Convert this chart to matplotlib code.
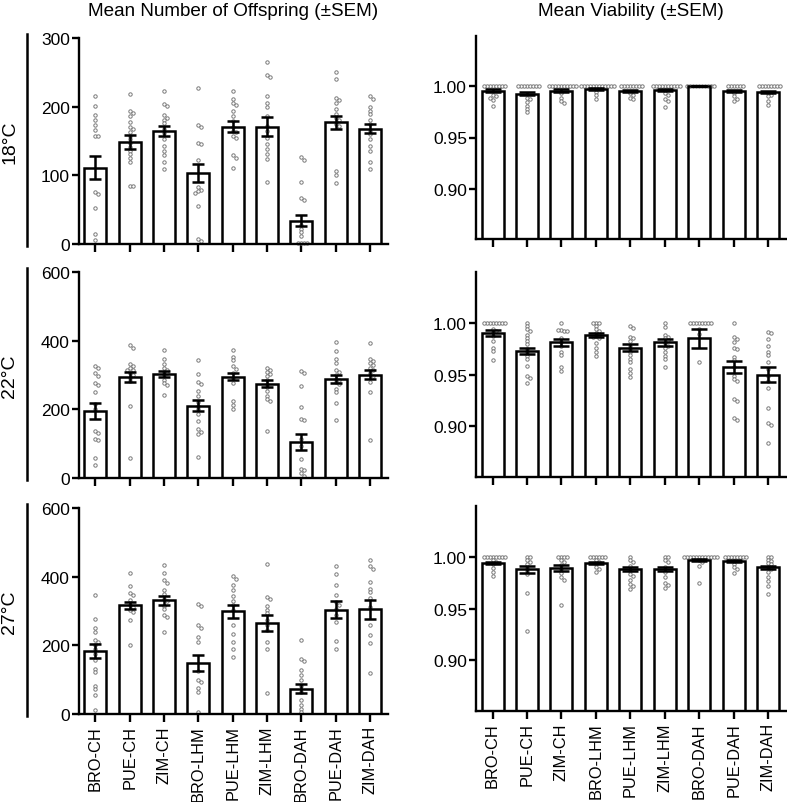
import matplotlib
matplotlib.use('Agg')
import matplotlib.pyplot as plt
from matplotlib.lines import Line2D
import numpy as np

plt.rcParams['font.family'] = ['Liberation Sans', 'DejaVu Sans']

groups = ['BRO-CH', 'PUE-CH', 'ZIM-CH', 'BRO-LHM', 'PUE-LHM', 'ZIM-LHM', 'BRO-DAH', 'PUE-DAH', 'ZIM-DAH']
temps = ['18°C', '22°C', '27°C']

# --- offspring ---
off18_mean = [111, 149, 165, 104, 171, 171, 34, 177, 168]
off18_sem = [17, 10, 7, 13, 8, 14, 8, 10, 7]
off18_pts = [
    [216, 201, 188, 180, 173, 166, 157, 157, 76, 73, 52, 15, 6],
    [218, 194, 191, 187, 178, 170, 167, 163, 158, 153, 147, 141, 136, 131, 125, 119, 85, 84],
    [223, 204, 201, 188, 184, 181, 176, 168, 162, 153, 143, 136, 129, 119, 109],
    [227, 173, 171, 147, 145, 123, 83, 79, 77, 75, 56, 7, 4],
    [223, 211, 206, 202, 193, 187, 179, 171, 165, 163, 158, 154, 129, 125, 110],
    [265, 246, 243, 216, 206, 200, 186, 172, 165, 154, 146, 139, 131, 124, 90],
    [126, 123, 90, 67, 64, 27, 22, 17, 12, 2, 1, 1, 1],
    [251, 241, 212, 210, 205, 197, 189, 184, 180, 175, 172, 107, 100, 89],
    [215, 211, 199, 194, 189, 180, 175, 165, 160, 153, 143, 136, 120, 109],
]
off22_mean = [194, 295, 302, 210, 295, 275, 105, 288, 301]
off22_sem = [23, 15, 9, 16, 10, 10, 23, 12, 14]
off22_pts = [
    [326, 321, 305, 297, 276, 270, 250, 215, 200, 137, 132, 113, 111, 59, 37],
    [386, 380, 331, 326, 321, 316, 315, 307, 299, 292, 283, 210, 59],
    [373, 346, 331, 321, 316, 309, 305, 299, 285, 276, 270, 243],
    [343, 302, 281, 274, 253, 239, 221, 210, 200, 185, 166, 142, 134, 127, 62],
    [373, 353, 343, 326, 318, 305, 292, 278, 224, 212, 200],
    [321, 316, 309, 302, 297, 285, 275, 266, 253, 239, 229, 224, 137],
    [312, 305, 268, 208, 171, 169, 113, 93, 56, 27, 23, 14, 6],
    [396, 370, 348, 336, 316, 309, 299, 289, 285, 280, 273, 260, 250, 217, 169],
    [392, 348, 341, 336, 328, 321, 315, 305, 297, 280, 250, 111],
]
off27_mean = [184, 317, 331, 149, 299, 266, 74, 304, 305]
off27_sem = [20, 10, 13, 24, 18, 23, 13, 24, 28]
off27_pts = [
    [348, 278, 250, 239, 215, 210, 200, 190, 176, 156, 132, 122, 83, 74, 54, 11],
    [410, 373, 353, 346, 331, 318, 312, 302, 297, 273, 202],
    [435, 412, 389, 382, 362, 350, 335, 328, 315, 305, 289, 282, 239],
    [321, 315, 258, 250, 224, 210, 124, 98, 93, 76, 64, 6],
    [402, 394, 375, 360, 344, 328, 317, 302, 258, 233, 210, 190, 166],
    [438, 341, 336, 315, 302, 293, 273, 258, 244, 210, 190, 61],
    [215, 161, 153, 127, 113, 98, 83, 64, 40, 25, 16, 6],
    [431, 409, 377, 346, 326, 318, 307, 287, 268, 213, 190],
    [450, 431, 423, 384, 365, 355, 338, 312, 258, 229, 208, 119],
]

# --- viability ---
via18_mean = [0.9958, 0.9926, 0.9958, 0.9974, 0.9958, 0.9965, 1.0, 0.9952, 0.9942]
via18_sem = [0.0012, 0.0015, 0.0012, 0.0008, 0.0010, 0.0012, 0.0, 0.0010, 0.0012]
via18_pts = [
    [1, 1, 1, 1, 1, 1, 1, 1, 0.991, 0.990, 0.989, 0.987, 0.981],
    [1, 1, 1, 1, 1, 1, 1, 1, 0.989, 0.988, 0.985, 0.981, 0.978, 0.975],
    [1, 1, 1, 1, 1, 1, 1, 1, 1, 1, 0.993, 0.989, 0.986, 0.984],
    [1, 1, 1, 1, 1, 1, 1, 1, 1, 1, 1, 1, 0.994, 0.991, 0.988],
    [1, 1, 1, 1, 1, 1, 1, 1, 0.993, 0.991, 0.989, 0.988],
    [1, 1, 1, 1, 1, 1, 1, 1, 1, 1, 0.993, 0.991, 0.988, 0.986, 0.980],
    [1, 1, 1, 1, 1, 1, 1, 1, 1, 1],
    [1, 1, 1, 1, 1, 1, 0.993, 0.990, 0.988, 0.986],
    [1, 1, 1, 1, 1, 1, 1, 1, 0.993, 0.991, 0.990, 0.986, 0.982],
]
via22_mean = [0.990, 0.973, 0.981, 0.988, 0.976, 0.981, 0.985, 0.957, 0.950]
via22_sem = [0.0025, 0.003, 0.003, 0.0018, 0.003, 0.003, 0.009, 0.006, 0.007]
via22_pts = [
    [1, 1, 1, 1, 1, 1, 1, 1, 0.994, 0.992, 0.991, 0.987, 0.982, 0.976, 0.973, 0.964],
    [1, 0.997, 0.994, 0.992, 0.988, 0.985, 0.982, 0.979, 0.975, 0.972, 0.968, 0.965, 0.958, 0.949, 0.947, 0.942],
    [1, 0.993, 0.992, 0.993, 0.992, 0.985, 0.981, 0.978, 0.972, 0.969, 0.957, 0.953],
    [1, 1, 1, 0.997, 0.994, 0.992, 0.990, 0.988, 0.987, 0.986, 0.985, 0.980, 0.976, 0.972, 0.968],
    [0.997, 0.995, 0.986, 0.985, 0.982, 0.978, 0.975, 0.972, 0.969, 0.965, 0.962, 0.955, 0.951, 0.948],
    [1, 0.996, 0.988, 0.986, 0.985, 0.983, 0.980, 0.978, 0.976, 0.972, 0.968, 0.965, 0.957],
    [1, 1, 1, 1, 1, 1, 1, 1, 0.994, 0.989, 0.962],
    [1, 0.986, 0.984, 0.981, 0.976, 0.975, 0.967, 0.964, 0.957, 0.949, 0.946, 0.944, 0.926, 0.924, 0.908, 0.906],
    [0.991, 0.990, 0.984, 0.978, 0.972, 0.969, 0.962, 0.955, 0.949, 0.944, 0.937, 0.918, 0.903, 0.901, 0.884],
]
via27_mean = [0.9942, 0.9878, 0.989, 0.9936, 0.9885, 0.9885, 0.9968, 0.9958, 0.990]
via27_sem = [0.001, 0.0035, 0.003, 0.001, 0.002, 0.002, 0.001, 0.001, 0.0015]
via27_pts = [
    [1, 1, 1, 1, 1, 1, 1, 1, 0.997, 0.995, 0.993, 0.989, 0.985, 0.981],
    [1, 1, 0.997, 0.995, 0.993, 0.989, 0.986, 0.983, 0.965, 0.928],
    [1, 1, 1, 1, 0.997, 0.995, 0.992, 0.988, 0.984, 0.980, 0.978, 0.953],
    [1, 1, 1, 1, 1, 1, 0.997, 0.995, 0.993, 0.990, 0.988, 0.985],
    [1, 0.997, 0.995, 0.991, 0.986, 0.983, 0.981, 0.978, 0.974, 0.972, 0.969],
    [1, 1, 0.997, 0.995, 0.990, 0.985, 0.980, 0.975, 0.973, 0.970],
    [1, 1, 1, 1, 1, 1, 1, 1, 1, 1, 1, 1, 0.997, 0.995, 0.991, 0.975],
    [1, 1, 1, 1, 1, 1, 1, 1, 0.996, 0.993, 0.990, 0.988, 0.984],
    [1, 1, 0.997, 0.996, 0.994, 0.993, 0.990, 0.988, 0.985, 0.980, 0.977, 0.972, 0.964],
]

W, H = 787, 803
fig = plt.figure(figsize=(W / 100, H / 100), dpi=100)


def px_rect(x0, x1, top, bot):
    return [x0 / W, 1 - bot / H, (x1 - x0) / W, (bot - top) / H]


def swarm(vals, ypx, d=3.0):
    # place points side by side when they would overlap (beeswarm)
    placed = []
    offs = []
    for v in vals:
        y = v * ypx
        k = 0
        while True:
            off = ((k + 1) // 2) * d * (1 if k % 2 else -1) if k else 0.0
            if all((off - px) ** 2 + (y - py) ** 2 >= d * d for px, py in placed):
                break
            k += 1
        placed.append((off, y))
        offs.append(off)
    return np.array(offs)


def panel(ax, means, sems, pts, ylim, yticks, ylabels, capsize, show_x):
    x = np.arange(len(groups))
    xpx = 34.4
    ypx = ax.get_position().height * H / (ylim[1] - ylim[0])
    for i, vals in enumerate(pts):
        offs = swarm(vals, ypx) / xpx
        ax.scatter(x[i] + offs, vals, s=6, facecolors='white', edgecolors='#7a7a7a',
                   linewidths=0.7, zorder=2, clip_on=False)
    ax.bar(x, np.array(means) - ylim[0], bottom=ylim[0], width=0.64, fill=False,
           edgecolor='black', linewidth=1.8, zorder=3)
    ax.errorbar(x, means, yerr=sems, fmt='none', ecolor='black', elinewidth=1.8,
                capsize=capsize, capthick=1.8, zorder=4)
    ax.set_xlim(-0.48, 8.52)
    ax.set_ylim(*ylim)
    ax.set_yticks(yticks)
    ax.set_yticklabels(ylabels, fontsize=12.5)
    ax.set_xticks(x)
    if show_x:
        ax.set_xticklabels(groups, rotation=90, fontsize=11.8)
    else:
        ax.set_xticklabels([])
    for s in ['top', 'right']:
        ax.spines[s].set_visible(False)
    for s in ['left', 'bottom']:
        ax.spines[s].set_linewidth(1.7)
    ax.tick_params(axis='y', direction='out', length=5, width=1.7, pad=1.5)
    ax.tick_params(axis='x', direction='out', length=5.5, width=1.7, pad=2.5)


left_rows = [(39, 245), (273, 479), (509, 715)]
right_rows = [(37, 240), (273, 478), (507, 712)]
off_data = [(off18_mean, off18_sem, off18_pts, 300),
            (off22_mean, off22_sem, off22_pts, 600),
            (off27_mean, off27_sem, off27_pts, 600)]
via_data = [(via18_mean, via18_sem, via18_pts),
            (via22_mean, via22_sem, via22_pts),
            (via27_mean, via27_sem, via27_pts)]

for r in range(3):
    m, s, p, top = off_data[r]
    ax = fig.add_axes(px_rect(79, 388, *left_rows[r]))
    ticks = np.arange(0, top + 1, 100 if top == 300 else 200)
    panel(ax, m, s, p, (0, top), ticks, [str(t) for t in ticks], 4.5, r == 2)

    m, s, p = via_data[r]
    ax = fig.add_axes(px_rect(476, 786, *right_rows[r]))
    panel(ax, m, s, p, (0.851, 1.049), [0.90, 0.95, 1.00], ['0.90', '0.95', '1.00'], 6, r == 2)

    # row label with vertical bar
    t, b = left_rows[r]
    fig.add_artist(Line2D([27 / W, 27 / W], [1 - (t - 4) / H, 1 - (b + 2) / H],
                          color='black', linewidth=1.8))
    fig.text(10 / W, 1 - (t + b) / 2 / H, temps[r], rotation=90, ha='center', va='center', fontsize=14)

fig.text(233.5 / W, 1 - 12 / H, 'Mean Number of Offspring (±SEM)', ha='center', va='center', fontsize=13.6)
fig.text(631 / W, 1 - 12 / H, 'Mean Viability (±SEM)', ha='center', va='center', fontsize=13.6)

fig.savefig('out.png', dpi=100)
